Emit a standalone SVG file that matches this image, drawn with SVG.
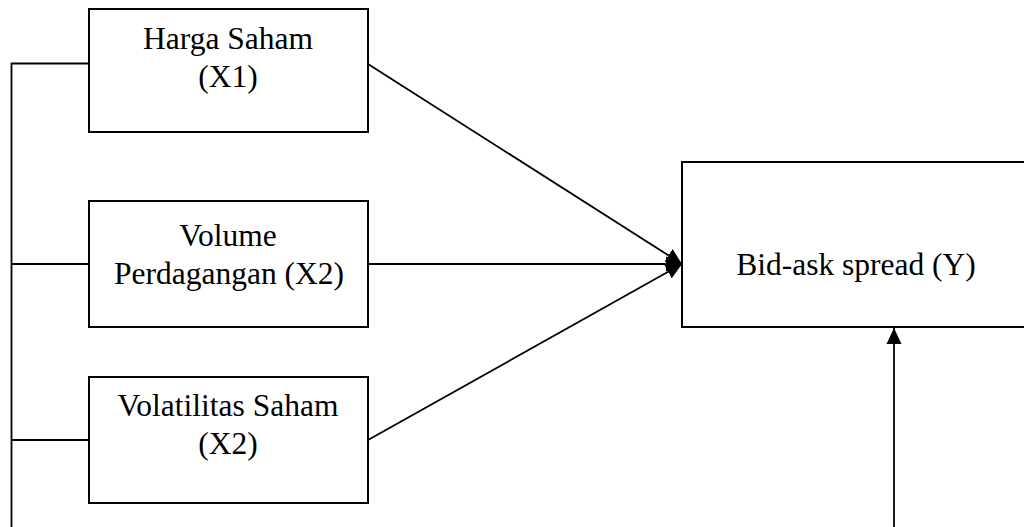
<svg xmlns="http://www.w3.org/2000/svg" width="1024" height="527" viewBox="0 0 1024 527">
<style>
.box{fill:#fff;stroke:#000;stroke-width:2}
.ln{fill:none;stroke:#000;stroke-width:1.8}
text{font-family:"Liberation Serif","Times New Roman",serif;font-size:31.5px;fill:#000;text-anchor:middle}
</style>
<defs>
<marker id="ah" markerWidth="18" markerHeight="16" refX="16" refY="8" orient="auto" markerUnits="userSpaceOnUse">
<path d="M0,0.5 L16,8 L0,15.5 z" fill="#000"/>
</marker>
</defs>
<rect width="1024" height="527" fill="#fff"/>
<g id="connectors">
<path class="ln" d="M11.5,527 V63.5 H89"/>
<path class="ln" d="M11.5,264 H89"/>
<path class="ln" d="M11.5,440 H89"/>
<path class="ln" d="M368,64 L682,264" marker-end="url(#ah)"/>
<path class="ln" d="M368,264 L682,264" marker-end="url(#ah)"/>
<path class="ln" d="M368,440 L682,264" marker-end="url(#ah)"/>
<path class="ln" d="M894,527 V328" marker-end="url(#ah)"/>
</g>
<g id="x1">
<rect class="box" x="89" y="9" width="279" height="123"/>
<text x="228" y="49">Harga Saham</text>
<text x="228" y="87">(X1)</text>
</g>
<g id="x2">
<rect class="box" x="89" y="201" width="279" height="126"/>
<text x="228" y="246">Volume</text>
<text x="229" y="284">Perdagangan (X2)</text>
</g>
<g id="x3">
<rect class="box" x="89" y="377" width="279" height="126"/>
<text x="228" y="416">Volatilitas Saham</text>
<text x="228" y="454">(X2)</text>
</g>
<g id="y">
<rect class="box" x="682" y="162" width="360" height="165"/>
<text x="856" y="275">Bid-ask spread (Y)</text>
</g>
</svg>
